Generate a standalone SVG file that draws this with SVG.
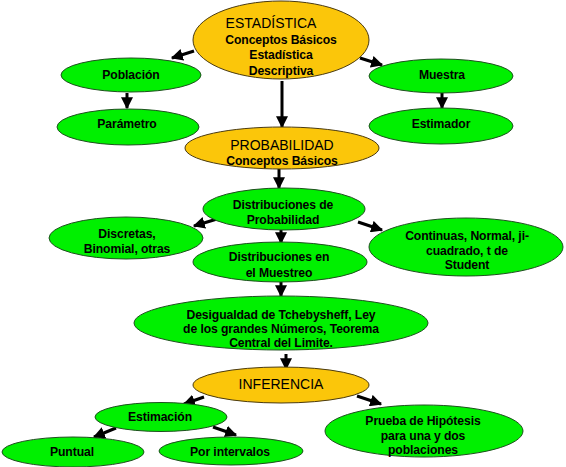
<svg xmlns="http://www.w3.org/2000/svg" width="566" height="467" viewBox="0 0 566 467">
<defs>
<style>
.g{fill:#00F000;stroke:#1f4f1f;stroke-width:1}
.o{fill:#FBC60A;stroke:#4a3a10;stroke-width:1}
text{font-family:"Liberation Sans",Arial,sans-serif;text-anchor:middle;fill:#000}
.b{font-weight:bold;font-size:12.2px;letter-spacing:-0.1px}
.h{font-size:14px}
.c line{stroke:#000;stroke-width:3;marker-end:url(#ah)}
</style>
<marker id="ah" markerUnits="userSpaceOnUse" markerWidth="12" markerHeight="12" viewBox="0 0 10 10" refX="9" refY="5" orient="auto">
<path d="M0,0 L10,5 L0,10 z" fill="#000"/>
</marker>
</defs>
<rect width="566" height="467" fill="#fff"/>
<g class="c" id="connectors">
<line x1="194" y1="51" x2="172" y2="58"/>
<line x1="360" y1="58" x2="382" y2="65"/>
<line x1="282" y1="81" x2="282" y2="127"/>
<line x1="127" y1="93" x2="127" y2="108"/>
<line x1="442" y1="93" x2="442" y2="108"/>
<line x1="279" y1="169" x2="279" y2="188"/>
<line x1="217" y1="219" x2="194" y2="226"/>
<line x1="358" y1="222" x2="382" y2="230"/>
<line x1="281" y1="230" x2="281" y2="243"/>
<line x1="281" y1="282" x2="281" y2="296"/>
<line x1="286" y1="354" x2="286" y2="369"/>
<line x1="204" y1="397" x2="184" y2="404"/>
<line x1="357" y1="396" x2="381" y2="404"/>
<line x1="116" y1="428" x2="94" y2="437"/>
<line x1="213" y1="427" x2="236" y2="435"/>
</g>
<g id="estadistica"><ellipse class="o" cx="281" cy="40" rx="88" ry="39"/>
<text class="h" x="271" y="28">ESTADÍSTICA</text>
<text class="b" x="281" y="44">Conceptos Básicos</text>
<text class="b" x="281" y="59">Estadística</text>
<text class="b" x="281" y="75">Descriptiva</text></g>
<g id="poblacion"><ellipse class="g" cx="131" cy="75" rx="70" ry="17"/><text class="b" x="131" y="79">Población</text></g>
<g id="parametro"><ellipse class="g" cx="128" cy="127" rx="71" ry="18"/><text class="b" x="127" y="128">Parámetro</text></g>
<g id="muestra"><ellipse class="g" cx="441" cy="76" rx="72" ry="17"/><text class="b" x="442" y="79">Muestra</text></g>
<g id="estimador"><ellipse class="g" cx="441" cy="126" rx="72" ry="18"/><text class="b" x="441" y="128">Estimador</text></g>
<g id="probabilidad"><ellipse class="o" cx="282" cy="148" rx="97" ry="21"/>
<text class="h" x="282" y="150">PROBABILIDAD</text>
<text class="b" x="282" y="165">Conceptos Básicos</text></g>
<g id="distprob"><ellipse class="g" cx="284" cy="209" rx="81" ry="21"/>
<text class="b" x="283" y="209">Distribuciones de</text>
<text class="b" x="283" y="224">Probabilidad</text></g>
<g id="discretas"><ellipse class="g" cx="126" cy="238" rx="77" ry="21"/>
<text class="b" x="127" y="238">Discretas,</text>
<text class="b" x="127" y="253">Binomial, otras</text></g>
<g id="continuas"><ellipse class="g" cx="466" cy="247" rx="97" ry="29"/>
<text class="b" x="467" y="240">Continuas, Normal, ji-</text>
<text class="b" x="467" y="255">cuadrado, t de</text>
<text class="b" x="467" y="269">Student</text></g>
<g id="distmuestreo"><ellipse class="g" cx="280" cy="262" rx="87" ry="20"/>
<text class="b" x="279" y="261">Distribuciones en</text>
<text class="b" x="279" y="277">el Muestreo</text></g>
<g id="desigualdad"><ellipse class="g" cx="281" cy="323" rx="147" ry="27"/>
<text class="b" x="281" y="319">Desigualdad de Tchebysheff, Ley</text>
<text class="b" x="281" y="333">de los grandes Números, Teorema</text>
<text class="b" x="281" y="347">Central del Limite.</text></g>
<g id="inferencia"><ellipse class="o" cx="281" cy="385" rx="88" ry="18"/>
<text class="h" x="281" y="389">INFERENCIA</text></g>
<g id="estimacion"><ellipse class="g" cx="161" cy="417" rx="66" ry="14.5"/><text class="b" x="160" y="421">Estimación</text></g>
<g id="puntual"><ellipse class="g" cx="73" cy="452" rx="71" ry="15"/><text class="b" x="72" y="456">Puntual</text></g>
<g id="intervalos"><ellipse class="g" cx="231" cy="451" rx="72" ry="14"/><text class="b" x="230" y="456">Por intervalos</text></g>
<g id="prueba"><ellipse class="g" cx="424" cy="431" rx="99" ry="26"/>
<text class="b" x="423" y="425">Prueba de Hipótesis</text>
<text class="b" x="423" y="440">para una y dos</text>
<text class="b" x="423" y="454">poblaciones</text></g>
</svg>
